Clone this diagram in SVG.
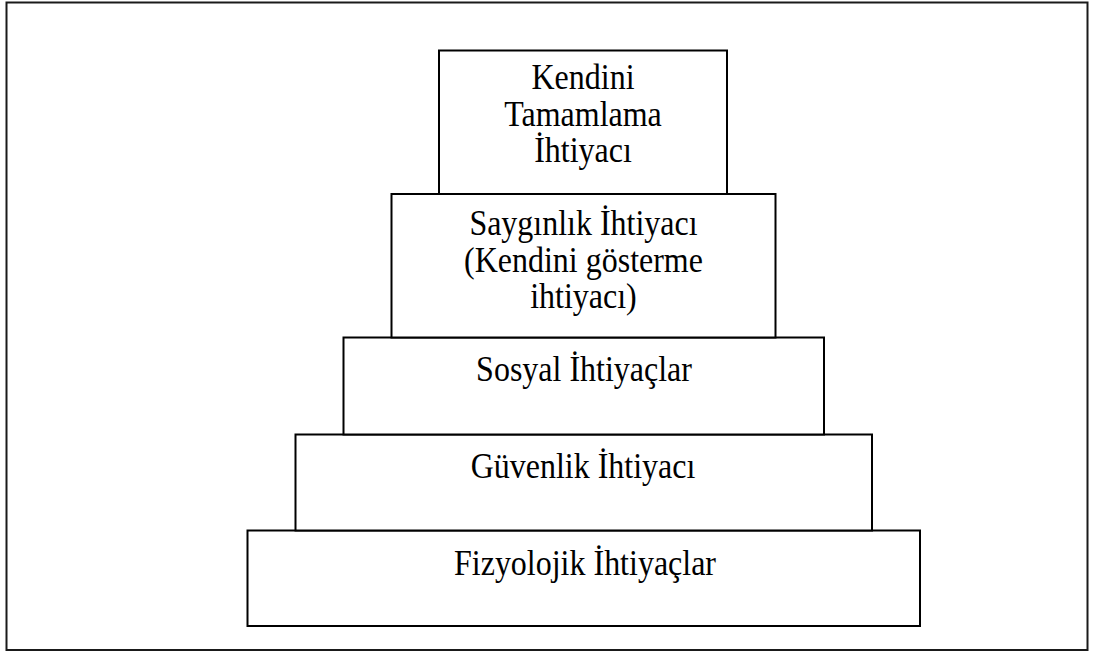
<svg xmlns="http://www.w3.org/2000/svg" width="1093" height="653" viewBox="0 0 1093 653">
  <style>
    .frame { fill: #ffffff; stroke: #1a1a1a; stroke-width: 2; }
    .step { fill: #ffffff; stroke: #000000; stroke-width: 2; }
    .label { font-family: "Liberation Serif", "Times New Roman", serif; font-size: 35px; fill: #000000; text-anchor: middle; }
  </style>
  <rect width="1093" height="653" fill="#ffffff"/>
  <rect class="frame" x="6.5" y="2.5" width="1081" height="647.5"/>

  <!-- labels use a slightly condensed serif: each text is placed at its anchor and narrowed -->
  <g id="fizyolojik">
    <rect class="step" x="247.5" y="530.5" width="672.5" height="95.5"/>
    <text class="label" transform="translate(585 575) scale(0.914 1)">Fizyolojik İhtiyaçlar</text>
  </g>
  <g id="guvenlik">
    <rect class="step" x="295.5" y="434.5" width="576.5" height="96"/>
    <text class="label" transform="translate(583 478) scale(0.914 1)">Güvenlik İhtiyacı</text>
  </g>
  <g id="sosyal">
    <rect class="step" x="343.5" y="337.5" width="480.5" height="97"/>
    <text class="label" transform="translate(584 381) scale(0.914 1)">Sosyal İhtiyaçlar</text>
  </g>
  <g id="saygınlık">
    <rect class="step" x="391.5" y="194" width="384" height="143.5"/>
    <text class="label" transform="translate(583.5 235) scale(0.914 1)">Saygınlık İhtiyacı</text>
    <text class="label" transform="translate(583.5 271.5) scale(0.914 1)">(Kendini gösterme</text>
    <text class="label" transform="translate(583.5 308) scale(0.914 1)">ihtiyacı)</text>
  </g>
  <g id="kendini-tamamlama">
    <rect class="step" x="439" y="50.5" width="288" height="143.5"/>
    <text class="label" transform="translate(583 89) scale(0.914 1)">Kendini</text>
    <text class="label" transform="translate(583 125.5) scale(0.914 1)">Tamamlama</text>
    <text class="label" transform="translate(583 162) scale(0.914 1)">İhtiyacı</text>
  </g>

  <g id="connectors"/>
</svg>
